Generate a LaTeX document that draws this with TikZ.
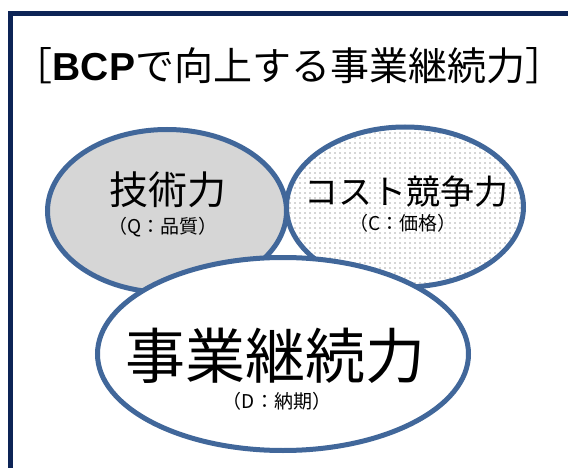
\documentclass[tikz,border=0pt]{standalone}
\usepackage{fontspec}
\newfontfamily\jp{Noto Sans CJK JP}
\newfontfamily\latinsans{Liberation Sans}
\usetikzlibrary{shapes.geometric,patterns.meta}
\definecolor{framecol}{HTML}{0D2456}
\definecolor{edgecol}{HTML}{41679A}
\definecolor{grayfill}{HTML}{D6D6D6}
\definecolor{dotcol}{HTML}{505050}
\tikzset{
  bubble/.style={ellipse, draw=edgecol, line width=5pt, inner sep=0pt},
  lbl/.style={inner sep=0pt, text=black, font=\jp},
}
\begin{document}
\begin{tikzpicture}[x=1pt,y=-1pt]
\useasboundingbox (0,0) rectangle (568,468);
\clip (0,0) rectangle (568,468);
\fill[white] (0,0) rectangle (568,468);
\draw[framecol, line width=4.5pt] (10.5,13.5) rectangle (640,540);
\node[lbl, font=\jp\fontsize{39}{43}\selectfont] (title) at (289,66) {［{\latinsans\bfseries BCP}で向上する事業継続力］};
\node[bubble, fill=grayfill, minimum width=239pt, minimum height=163pt] (quality) at (167,211) {};
\node[bubble, preaction={fill=white}, pattern={Dots[distance=5pt,radius=0.65pt]}, pattern color=dotcol, minimum width=237pt, minimum height=160pt] (cost) at (405,207) {};
\node[bubble, fill=white, minimum width=371pt, minimum height=193pt] (cont) at (283,354) {};
\node[lbl, font=\jp\fontsize{39}{42}\selectfont] (qname) at (168,190) {技術力};
\node[lbl, font=\jp\fontsize{19}{21}\selectfont] (qsub) at (163,227) {（Q：品質）};
\node[lbl, font=\jp\fontsize{34}{38}\selectfont] (cname) at (406,192) {コスト競争力};
\node[lbl, font=\jp\fontsize{19}{21}\selectfont] (csub) at (403,223) {（C：価格）};
\node[lbl, font=\jp\fontsize{60}{64}\selectfont] (dname) at (275,356) {事業継続力};
\node[lbl, font=\jp\fontsize{19}{21}\selectfont] (dsub) at (277,401) {（D：納期）};
\end{tikzpicture}
\end{document}
